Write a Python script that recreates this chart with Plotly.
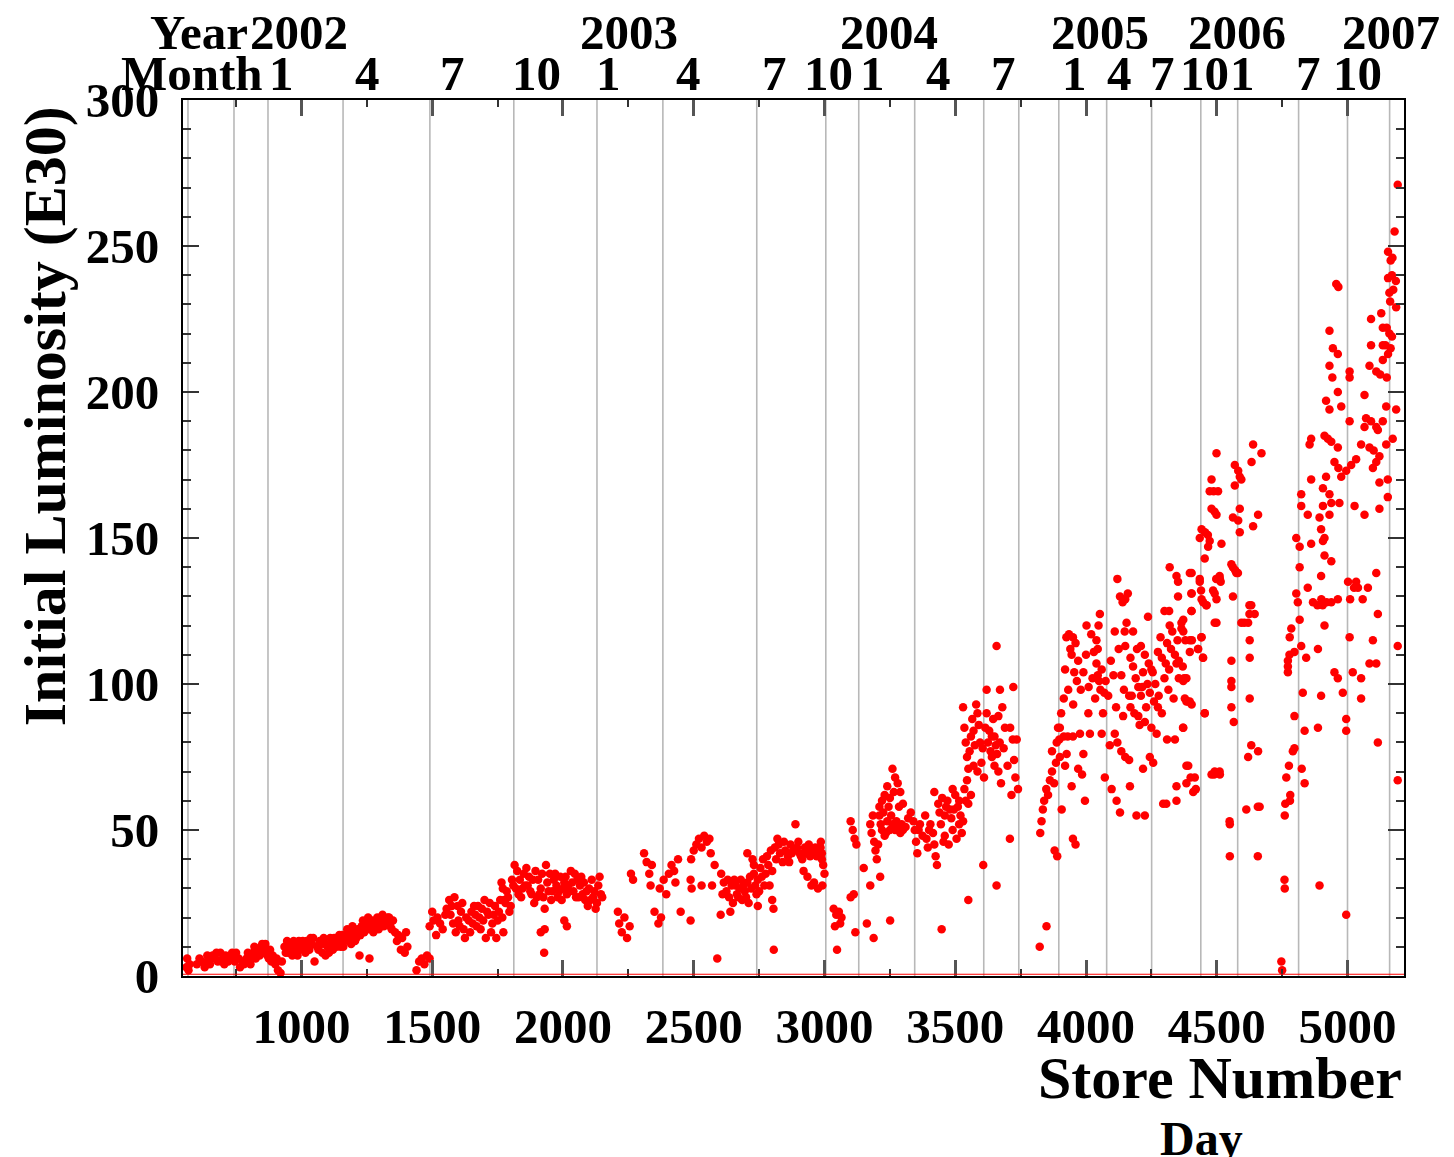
import plotly.graph_objects as go

# ---------------- data (store number, initial luminosity E30) ----------------
store_a = [560,563,568,572,620,630,640,650,660,670,680,690,700,705,710,720,730,740,750,760,765,
           780,790,800,810,815,825,835,845,855,862,870,880,885,890,900,905,910,920,925,
           935,945,950,960,970,975,985,990,1000,1010,1020,1030,1040,1045,1050,1060,1070,1080,1090,1092,
           1100,1110,1120,1130,1140,1150,1155,1165,1175,1185,1190,1200,1210,1215,1222,1260,
           1230,1240,1250,1260,1270,1280,1290,1300,1310,1320,1330,1340,1350,
           1358,1365,1370,1380,1385,1395,1400,1405,1440,1450,1460,1470,1480,1490,
           1490,1500,1505,1515,1520,1530,1540,1550,1555,
           600,610,645,675,695,715,735,745,775,795,805,820,840,850,865,875,940,955,965,980,995,
           1005,1015,1025,1035,1065,1075,1085,1105,1115,1125,1135,1145,1160,1170,1180,1195,1205,
           1225,1235,1245,1255,1265,1275,1285,1295,1305,1315,1325,1335,1345]
lum_a = [3,6,2,4,5,3,7,4,7,6,5,8,6,4,7,5,7,6,8,6,3,
         4,6,5,7,8,6,9,10,8,11,7,9,5,7,4,6,2,1,5,
         10,12,8,11,12,9,7,12,11,10,12,9,11,13,5,10,12,8,11,7,
         10,13,9,11,12,10,14,12,16,13,11,15,13,16,7,6,
         17,15,18,16,19,17,20,18,21,19,20,17,19,
         15,12,14,9,13,8,15,10,2,5,6,4,7,6,
         17,22,19,14,20,18,16,21,23,
         4,6,5,8,5,6,8,5,5,8,4,10,7,11,9,6,8,10,7,11,9,
         12,8,11,13,9,11,13,8,11,13,10,14,10,13,15,17,12,
         14,19,16,20,17,15,18,16,19,17,18,20,16]

store_b = [1565,1570,1580,1585,1590,1597,1600,1610,1620,1625,1640,1650,1660,1670,1680,1690,1700,1705,1715,1720,
           1730,1740,1745,1755,1760,1765,1770,1775,1768,1772,1780,1790,1795,1800,1810,
           1815,1825,1835,1845,1850,1860,1870,1880,1890,1895,1905,1915,1925,1930,1935,1940,1915,1930,1928,
           1965,1975,1985,1995,2005,2010,2015,2005,2015,2045,2055,2065,2075,2085,2095,2100,2110,2120,2125,
           2135,2145,2150,1830,1855,1875,1900,1950,1960,1990,2000,2020,2030,2040,2060,2080,2090,2115,2130,
           2210,2215,2225,2235,2245,2255,2260,2268,2310,2320,2330,2335,2340,2350,2365,2375,
           2370,2385,2395,2405,2415,2425,2430,2440,2450,2488,
           2490,2500,2510,2520,2530,2540,2550,2560,2565,2488,2492,2530,2570,2590,2603,2640,
           2605,2615,2625,2635,2645,2655,2665,2675,2685,2695,2705,2710,2720,2730,2740,2745,
           2705,2725,2730,2745,2755,2765,2775,2785,2790,2800,2800,2805,2806,
           2810,2820,2830,2840,2850,2860,2870,2880,2889,2895,2905,2915,2925,2935,2945,2955,2965,2980,2990,
           2935,2960,2975,2920,2950,
           1575,1605,1615,1630,1645,1655,1665,1675,1685,1695,1710,1725,1735,1750,1785,1805,1820,1840,
           1865,1885,1910,1920,1945,1955,1970,1980,2025,2035,2050,2070,2105,2140,
           2580,2610,2630,2650,2660,2670,2680,2690,2700,2715,2735,2750,2760,2770,2780,2795,
           2815,2825,2845,2865,2875,2900,2910,2930,2940,2970,2985]
lum_b = [26,21,18,27,15,24,19,22,16,13,19,22,24,17,20,23,26,13,21,25,
         18,24,13,22,26,32,30,26,20,15,25,27,22,24,31,
         38,36,33,30,35,37,34,28,25,36,33,30,27,23,38,32,15,16,8,
         33,31,29,26,32,34,28,19,17,35,33,31,28,26,24,30,33,29,23,
         31,28,27,28,31,29,27,35,29,34,30,31,36,29,27,32,29,27,25,
         22,18,15,20,13,17,35,33,42,39,35,31,38,22,18,20,
         30,33,28,35,38,36,32,40,22,19,
         40,43,45,47,44,48,46,47,42,33,30,31,31,6,21,22,
         35,32,29,27,31,33,28,30,26,29,32,25,30,35,28,24,
         42,40,38,33,37,40,35,38,31,36,26,23,9,
         44,47,42,39,43,41,45,43,52,44,42,40,44,43,41,43,44,42,40,
         34,32,30,36,31,
         24,17,25,20,15,18,21,24,16,19,22,15,21,19,29,33,30,27,
         31,33,28,35,29,26,35,27,29,32,27,34,26,34,
         38,28,33,25,31,27,33,31,27,34,31,29,34,31,41,43,
         40,45,46,39,42,46,41,42,45,41,44]

store_c = [2986,2990,2995,3000,2992,3035,3045,3055,3065,3040,3060,3048,3118,
           3100,3108,3115,3122,3100,3112,3150,3175,3162,3188,
           3175,3180,3190,3195,3200,3210,3220,3230,3240,3250,3260,3270,3280,3290,3300,
           3210,3220,3230,3240,3250,3260,3270,3280,3290,3300,3213,3251,
           3330,3340,3345,3350,3355,3365,3375,3385,3395,3405,3415,3420,3425,3430,
           3420,3435,3440,3450,3460,3470,3480,3490,3500,3510,3520,3530,3540,3550,
           3460,3475,3490,3505,3515,3525,3448,
           3530,3535,3540,3545,3550,3555,3560,3565,3570,3575,3580,3585,3590,3595,3600,3605,3610,
           3550,3607,3620,3625,3630,3635,3640,3645,3650,3655,3660,3665,3671,3680,3690,
           3658,3658,3665,3675,3722,3720,3725,3715,3730,3735,3709,3740,
           3823,3849,3825,3830,3835,3840,3848,3855,3862,3870,3878,3885,3893,3898,3870,3888,3900,3880,3890,
           3185,3205,3215,3225,3235,3245,3255,3265,3275,3285,3295,3310,3320,3360,3390,3400,
           3445,3455,3465,3485,3495,3515,3535,3545,3560,3570,3585,3615,3620,3640,3650,3670,3685,3700,3710]
lum_c = [46,42,38,35,31,23,21,22,20,17,18,9,15,
         53,50,47,45,27,28,37,31,18,13,
         52,49,46,43,40,55,50,48,53,50,52,50,51,49,50,
         58,60,62,65,61,71,68,66,63,59,34,19,
         56,53,50,46,42,52,48,55,44,52,49,45,41,38,
         63,59,56,61,55,60,57,64,62,58,55,53,60,59,
         48,45,50,47,52,49,16,
         92,85,80,75,71,77,82,88,84,79,93,90,86,80,73,78,68,
         26,38,98,80,84,77,75,88,82,79,76,89,98,92,85,
         113,31,70,66,99,81,74,62,68,81,47,64,
         10,17,49,53,57,60,64,62,67,70,66,73,85,81,77,80,75,43,41,
         55,45,52,56,49,58,55,63,53,58,52,51,54,50,47,50,
         52,46,58,54,57,60,64,67,62,72,70,85,90,82,72,80,78,72,85]

store_d = [3900,3915,3930,3950,3925,3935,3950,3960,3945,3955,3965,3932,3951,4009,3926,3920,3990,3977,4015,
           3970,3985,3945,3996,3907,3960,3950,
           4002,4020,4040,4053,4048,4030,4040,4045,4050,4055,4060,4070,
           4060,4091,4072,4098,4117,4130,4120,4130,4140,4150,4160,4110,4148,4150,
           4170,4180,4190,4200,4210,4218,4142,4175,4170,4185,4200,4225,4230,
           4110,4120,4135,4150,4165,4168,4193,4225,4218,
           4237,4210,4225,4240,4255,4250,4244,4260,4275,4290,4244,4257,4270,4278,
           4275,4290,4305,4318,4300,4318,4320,4346,4352,4352,4320,4310,4325,4340,4355,4346,4355,
           4310,4340,4346,4346,4295,4307,
           3905,3915,3920,3940,3970,3980,3990,4000,4010,4025,4035,4045,4065,4075,4085,4095,
           4105,4115,4125,4135,4145,4155,4165,4180,4195,4205,4215,4235,4250,4265,4285,4300,
           4315,4330,4335,4350]
lum_d = [85,82,82,82,116,117,116,114,110,104,101,98,93,90,76,72,76,83,83,
         71,69,65,60,57,45,47,
         120,117,115,124,120,111,107,103,101,98,105,97,
         83,79,68,64,60,56,136,130,128,129,131,118,118,113,
         109,106,102,99,96,104,89,96,92,90,89,87,92,
         83,80,77,75,74,65,55,55,71,
         123,113,110,107,104,105,97,94,92,90,75,73,83,96,
         111,109,107,105,125,125,140,137,135,130,120,114,112,110,108,107,102,
         81,81,65,60,59,59,
         90,95,105,112,108,98,104,110,99,102,95,112,90,101,96,108,
         103,92,112,103,98,121,96,118,112,86,99,100,85,100,116,102,
         98,118,95,115]

store_e = [4365,4365,4370,4375,4380,4405,4384,4397,4371,4384,4400,4420,
           4403,4403,4397,4435,4440,4448,4460,4441,4428,4447,4454,4492,4492,4498,4511,4515,4492,4511,4549,
           4499,4480,4473,4488,4505,4480,4492,4499,4442,4455,4466,4473,4435,4467,4518,4454,4404,4435,4512,
           4486,4499,4442,4461,4404,4404,4372,4372,4499,4442,4397,4429,4397,4448,4384,4372,4378,4390,4404,
           4454,4372,4391,4416,4384,4410,4480,4490,4512,4550,
           4569,4582,4588,4594,4569,4562,4582,4588,4588,4562,4575,4562,4594,4620,4632,4645,4626,4626,
           4556,4556,4556,4556,4565,4626,4632,4658,4620,4613,4664,4639,4671,4633,4658,4639,
           4556,4570,4581,4605,4625,4625,4657,4550,4657,4750,4760,
           4779,4772,4772,4766,4760,4780]
lum_e = [121,119,106,102,115,115,94,94,85,72,68,64,
         131,125,138,136,132,128,127,116,112,109,90,131,121,136,137,135,70,70,53,
         179,170,166,166,166,160,159,158,153,152,151,149,150,147,148,143,138,135,136,
         132,129,129,127,131,125,122,118,121,116,115,112,111,109,102,101,95,94,93,
         90,85,72,68,66,63,69,69,69,52,
         175,173,171,170,168,157,156,160,152,140,138,130,121,121,127,124,115,109,
         108,101,99,92,87,95,79,77,75,57,58,182,179,176,158,154,
         141,139,138,121,127,124,58,41,41,2,30,
         116,108,104,68,55,60]

store_f = [5192,5180,5155,5172,5165,5155,5170,5185,5160,5175,5163,5186,4957,4965,5090,5129,
           5135,5150,5160,5170,5145,5165,5155,4931,4944,4963,5090,5135,5135,
           5110,5125,5150,5084,4931,4942,5008,5008,4963,5065,4918,4976,4931,5148,5186,
           5008,5071,5090,5110,5135,5116,5065,4912,4925,4938,4861,4855,5173,
           4963,5052,5084,5100,5122,5110,5148,5033,5014,4950,4965,4995,5097,4976,4918,5154,5122,4861,
           4906,4931,4823,4938,4969,4906,4823,5027,5065,5122,5154,
           4848,4893,4931,4804,4817,4861,4899,4912,4906,
           4817,4912,4938,4899,4848,4868,4900,4920,4938,4885,4905,
           4963,5002,5025,5040,5058,5010,5033,5078,4804,4810,
           5110,5116,4817,4912,4785,5008,5097,5192,4823,4797,4778,4842,4887,4772,
           4950,4963,5020,5052,5084,5110,4829,4899,4982,5052,
           4797,4836,4887,4995,4995,5116,4797,4791,4776,4825,4836,5192,4781,4762,
           4759,4893,4995,4747]
lum_f = [271,255,248,246,245,239,240,238,234,235,231,229,237,236,225,227,
         222,222,220,219,216,215,213,221,215,213,216,216,211,
         207,206,205,209,209,205,207,205,200,199,197,195,194,195,194,
         190,191,190,188,190,187,188,185,184,183,184,182,184,
         181,182,181,180,178,176,182,177,175,176,174,173,174,171,171,170,169,170,
         167,165,165,162,162,161,161,161,158,160,164,
         158,157,158,150,147,148,153,150,149,
         140,144,142,137,133,128,129,128,128,127,127,
         129,135,133,133,129,129,135,133,131,128,
         138,124,122,120,119,116,115,113,113,111,110,109,112,106,
         104,102,104,102,107,107,97,96,97,95,
         89,84,85,88,84,80,78,77,72,71,66,67,62,59,
         33,31,21,5]

# tick / label values
x_ticks = [1000, 1500, 2000, 2500, 3000, 3500, 4000, 4500, 5000]
x_minor = [750, 1250, 1750, 2250, 2750, 3250, 3750, 4250, 4750]
month_grid = [566, 742, 872, 1159, 1491, 1812, 2130, 2382, 2741, 3005, 3131, 3345,
              3609, 3743, 3896, 4079, 4251, 4439, 4580, 4813, 5000, 5161]
month_labels = ["1", "4", "7", "10", "1", "4", "7", "10", "1", "4", "7",
                "1", "4", "7", "10", "1", "7", "10"]
month_pos = [922, 1254, 1579, 1900, 2175, 2481, 2810, 3016, 3185, 3437, 3686,
             3957, 4129, 4293, 4454, 4600, 4852, 5039]
year_labels = ["2002", "2003", "2004", "2005", "2006", "2007"]
year_pos = [990, 2252, 3246, 4053, 4576, 5168]

store = store_a + store_b + store_c + store_d + store_e + store_f
lum = lum_a + lum_b + lum_c + lum_d + lum_e + lum_f

FONT = "Liberation Serif"

fig = go.Figure()
fig.add_trace(go.Scatter(x=store, y=lum, mode="markers",
                         marker=dict(color="#ff0000", size=8.5, line=dict(width=0)),
                         showlegend=False, cliponaxis=True))

shapes = []
for g in month_grid:
    shapes.append(dict(type="line", xref="x", yref="paper", x0=g, x1=g, y0=0, y1=1,
                       line=dict(color="#b8b8b8", width=1.6), layer="below"))
shapes.append(dict(type="line", xref="paper", yref="y", x0=0, x1=1, y0=0.6, y1=0.6,
                   line=dict(color="#ff0000", width=1.2), layer="above"))

tick_font = dict(family=FONT, size=49, color="black", weight="bold")
annotations = []
for lab, p in zip(month_labels, month_pos):
    annotations.append(dict(text=lab, x=p, xref="x", y=1.0308, yref="paper",
                            showarrow=False, xanchor="center", yanchor="middle", font=tick_font))
for lab, p in zip(year_labels, year_pos):
    annotations.append(dict(text=lab, x=p, xref="x", y=1.0776, yref="paper",
                            showarrow=False, xanchor="center", yanchor="middle", font=tick_font))
annotations.append(dict(text="Year", x=0.0549, xref="paper", y=1.0776, yref="paper",
                        showarrow=False, xanchor="right", yanchor="middle", font=tick_font))
annotations.append(dict(text="Month", x=0.0671, xref="paper", y=1.0308, yref="paper",
                        showarrow=False, xanchor="right", yanchor="middle", font=tick_font))
annotations.append(dict(text="Initial Luminosity (E30)", x=-0.113, xref="paper", y=0.639, yref="paper",
                        showarrow=False, xanchor="center", yanchor="middle", textangle=-90,
                        font=dict(family=FONT, size=60, color="black", weight="bold")))
annotations.append(dict(text="Store Number", x=1.0, xref="paper", y=-0.1164, yref="paper",
                        showarrow=False, xanchor="right", yanchor="middle",
                        font=dict(family=FONT, size=60, color="black", weight="bold")))
annotations.append(dict(text="Day", x=0.834, xref="paper", y=-0.185, yref="paper",
                        showarrow=False, xanchor="center", yanchor="middle",
                        font=dict(family=FONT, size=48, color="black", weight="bold")))

fig.update_layout(
    width=1454, height=1157,
    margin=dict(l=183, r=50, t=100, b=181, autoexpand=False),
    plot_bgcolor="white", paper_bgcolor="white",
    shapes=shapes, annotations=annotations,
    xaxis=dict(range=[547, 5216], tickmode="array", tickvals=x_ticks,
               ticks="inside", ticklen=16, tickwidth=3, tickcolor="#555555",
               minor=dict(tickmode="array", tickvals=x_minor, ticks="inside", ticklen=7,
                          tickwidth=2, tickcolor="#333333"),
               showline=True, linecolor="black", linewidth=2, mirror="ticks",
               showgrid=False, zeroline=False, tickfont=tick_font, ticklabelstandoff=6),
    yaxis=dict(range=[0, 300], tickmode="linear", tick0=0, dtick=50,
               ticks="inside", ticklen=16, tickwidth=2, tickcolor="#333333",
               minor=dict(tickmode="linear", tick0=0, dtick=10, ticks="inside", ticklen=8,
                          tickwidth=2, tickcolor="#333333"),
               showline=True, linecolor="black", linewidth=2, mirror="ticks",
               showgrid=False, zeroline=False, tickfont=tick_font, ticklabelstandoff=12),
)

fig.write_html("out.html")
